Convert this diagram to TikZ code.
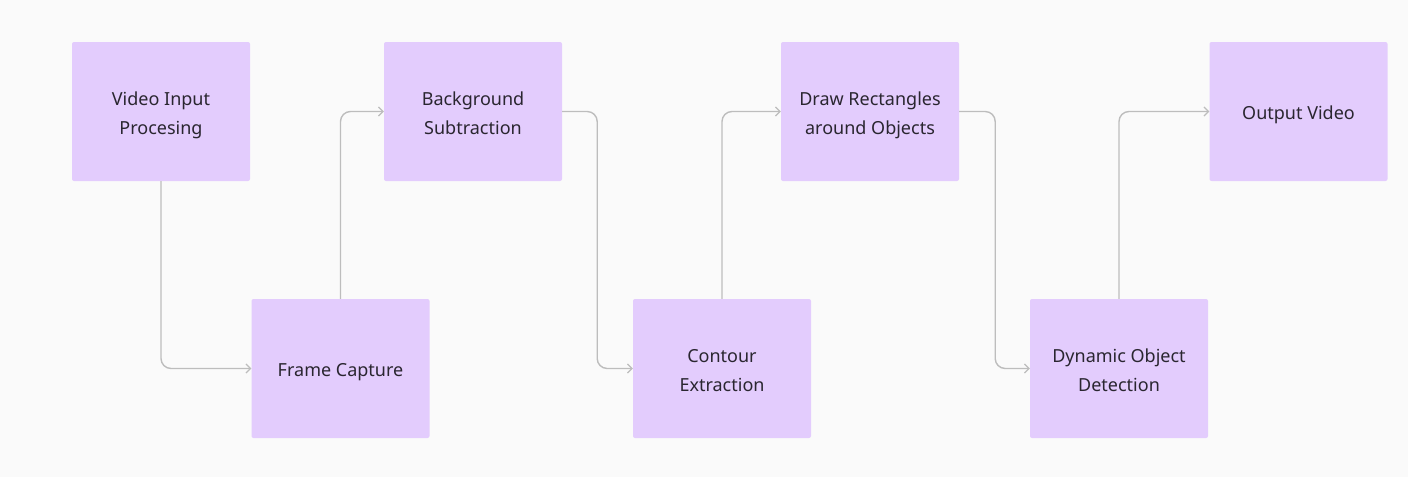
\documentclass[tikz,border=0pt]{standalone}
\usepackage{fontspec}
\setmainfont{Noto Sans}
\usetikzlibrary{arrows.meta}
\definecolor{bg}{HTML}{FAFAFA}
\definecolor{boxfill}{HTML}{E3CCFD}
\definecolor{txt}{HTML}{2A2630}
\definecolor{linec}{HTML}{BDBDBD}
\newcommand\tb[1]{\raisebox{-2.5pt}[\height][\depth]{\begin{tabular}{@{}c@{}}#1\end{tabular}}}
\tikzset{
  stepbox/.style={fill=boxfill, draw=none, rounded corners=2pt, minimum width=178pt, minimum height=139pt, inner sep=0pt, text=txt, font=\fontsize{18}{29}\selectfont},
  conn/.style={draw=linec, line width=1.4pt, rounded corners=10pt, -{Straight Barb[length=4.5pt,width=9pt,line width=1.2pt]}}
}
\begin{document}
\begin{tikzpicture}[x=1pt,y=-1pt]
\fill[bg] (0,0) rectangle (1408,477);
\useasboundingbox (0,0) rectangle (1408,477);
\node[stepbox] (a) at (161,111.5) {\tb{Video Input\\Procesing}};
\node[stepbox] (b) at (340.5,368.5) {\tb{Frame Capture}};
\node[stepbox] (c) at (473,111.5) {\tb{Background\\Subtraction}};
\node[stepbox] (d) at (722,368.5) {\tb{Contour\\Extraction}};
\node[stepbox] (e) at (870,111.5) {\tb{Draw Rectangles\\around Objects}};
\node[stepbox] (f) at (1119,368.5) {\tb{Dynamic Object\\Detection}};
\node[stepbox] (g) at (1298.5,111.5) {\tb{Output Video}};
\draw[conn] (a.south) |- (b.west);
\draw[conn] (b.north) |- (c.west);
\draw[conn] (c.east) -- ++(35,0) |- (d.west);
\draw[conn] (d.north) |- (e.west);
\draw[conn] (e.east) -- ++(36,0) |- (f.west);
\draw[conn] (f.north) |- (g.west);
\end{tikzpicture}
\end{document}
